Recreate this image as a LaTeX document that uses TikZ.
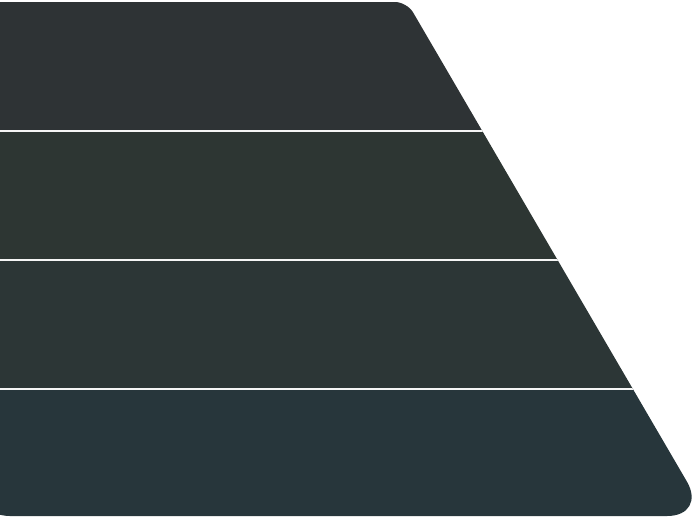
\documentclass[tikz,border=0pt]{standalone}
\usepackage{xcolor}
\definecolor{bandA}{RGB}{46,51,53}
\definecolor{bandB}{RGB}{45,54,51}
\definecolor{bandC}{RGB}{44,54,54}
\definecolor{bandD}{RGB}{39,54,59}

\begin{document}
\begin{tikzpicture}[x=1pt,y=-1pt,
 sep/.style={white!92!gray,line width=1.6pt},band/.style={draw=none}]
\useasboundingbox (0,0) rectangle (692,520);
\coordinate (TL) at (-30,2);
\coordinate (TR) at (407,2);
\coordinate (BR) at (707,516);
\coordinate (BL) at (-30,516);
\begin{scope}
\clip (TL) [rounded corners=12pt] -- (TR) [rounded corners=40pt] -- (BR) -- (BL) [sharp corners] -- cycle;
\foreach \c [count=\i from 0] in {bandA,bandB,bandC,bandD}
  \fill[band,\c] (-30,2+129*\i) rectangle (720,131+129*\i);
\foreach \y in {131,260,389}
  \draw[sep] (-30,\y) -- (720,\y);
\end{scope}
\end{tikzpicture}
\end{document}
